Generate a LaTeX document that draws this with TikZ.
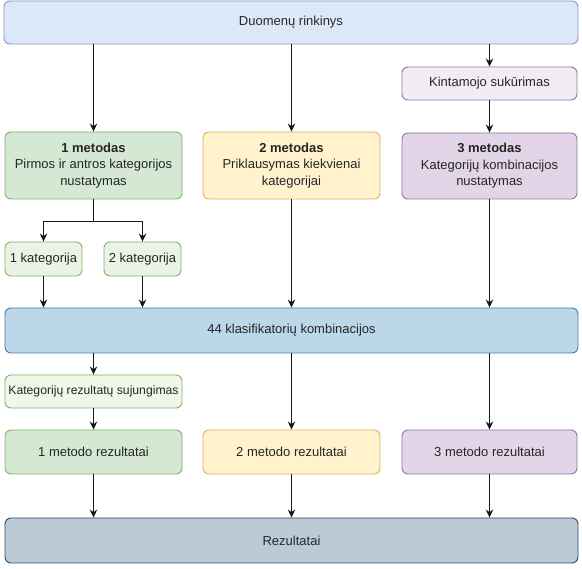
\documentclass[tikz,border=0pt]{standalone}
\usepackage{fontspec}
\setmainfont{Liberation Sans}
\usetikzlibrary{arrows.meta,calc}
\definecolor{topfill}{HTML}{DCE8F8}\definecolor{topdraw}{HTML}{7D98C0}
\definecolor{kfill}{HTML}{BCD6EA}\definecolor{kdraw}{HTML}{4A7AA8}
\definecolor{rfill}{HTML}{BCCAD6}\definecolor{rdraw}{HTML}{2C4A62}
\definecolor{gfill}{HTML}{D5E8D4}\definecolor{gdraw}{HTML}{82B366}
\definecolor{lgfill}{HTML}{EAF3E5}\definecolor{llgfill}{HTML}{F0F6EA}
\definecolor{yfill}{HTML}{FFF2CC}\definecolor{ydraw}{HTML}{D6B656}
\definecolor{pfill}{HTML}{E1D5E7}\definecolor{pdraw}{HTML}{9673A6}
\definecolor{lpfill}{HTML}{F2ECF5}
\tikzset{
  box/.style={draw, rounded corners=6pt, line width=0.9pt, align=center, inner sep=0pt, font=\fontsize{13}{16.5}\selectfont, text=black!85},
  arr/.style={-{Stealth[length=8pt,width=7.5pt]}, line width=1.1pt, black!90},
  ln/.style={line width=1.1pt, black!90}
}
\newcommand{\bx}[7]{% name, x1,y1,x2,y2, style, text
  \node[box,#6,minimum width={#4-#2},minimum height={#5-#3}] (#1) at ({(#2+#4)/2},{(#3+#5)/2}) {#7};}
\begin{document}
\begin{tikzpicture}[x=1pt,y=-1pt]
\useasboundingbox (0,0) rectangle (582,569);
\bx{top}{4}{1}{578}{44}{fill=topfill,draw=topdraw}{Duomenų rinkinys}
\bx{m1}{5}{132}{182}{199}{fill=gfill,draw=gdraw}{\textbf{1 metodas}\\Pirmos ir antros kategorijos\\nustatymas}
\bx{m2}{203}{132}{380}{199}{fill=yfill,draw=ydraw}{\textbf{2 metodas}\\Priklausymas kiekvienai\\kategorijai}
\bx{kint}{402}{67}{577}{100}{fill=lpfill,draw=pdraw}{Kintamojo sukūrimas}
\bx{m3}{402}{133}{577}{199}{fill=pfill,draw=pdraw}{\textbf{3 metodas}\\Kategorijų kombinacijos\\nustatymas}
\bx{k1}{5}{242}{82}{276}{fill=lgfill,draw=gdraw,font=\fontsize{13}{15}\selectfont}{1 kategorija}
\bx{k2}{104}{242}{181}{276}{fill=lgfill,draw=gdraw,font=\fontsize{13}{15}\selectfont}{2 kategorija}
\bx{k44}{5}{308}{578}{353}{fill=kfill,draw=kdraw}{44 klasifikatorių kombinacijos}
\bx{kr}{5}{375}{182}{408}{fill=llgfill,draw=gdraw,font=\fontsize{12.2}{14}\selectfont}{Kategorijų rezultatų sujungimas}
\bx{r1}{5}{430}{182}{474}{fill=gfill,draw=gdraw}{1 metodo rezultatai}
\bx{r2}{203}{430}{380}{474}{fill=yfill,draw=ydraw}{2 metodo rezultatai}
\bx{r3}{402}{430}{577}{474}{fill=pfill,draw=pdraw}{3 metodo rezultatai}
\bx{rez}{5}{518}{578}{563}{fill=rfill,draw=rdraw}{Rezultatai}
% arrows
\draw[arr] (top.south -| m1.north) -- (m1.north);
\draw[arr] (top.south -| m2.north) -- (m2.north);
\draw[arr] (top.south -| kint.north) -- (kint.north);
\draw[arr] (kint) -- (m3);
\coordinate (br) at ($(m1.south)+(0,22)$);
\draw[ln] (m1.south) -- (br);
\draw[arr] (br) -| (k1.north);
\draw[arr] (br) -| (k2.north);
\draw[arr] (k1.south) -- (k1.south |- k44.north);
\draw[arr] (k2.south) -- (k2.south |- k44.north);
\draw[arr] (m2.south) -- (m2.south |- k44.north);
\draw[arr] (m3.south) -- (m3.south |- k44.north);
\draw[arr] (k44.south -| kr.north) -- (kr.north);
\draw[arr] (kr) -- (r1);
\draw[arr] (k44.south -| r2.north) -- (r2.north);
\draw[arr] (k44.south -| r3.north) -- (r3.north);
\draw[arr] (r1.south) -- (r1.south |- rez.north);
\draw[arr] (r2.south) -- (r2.south |- rez.north);
\draw[arr] (r3.south) -- (r3.south |- rez.north);
\end{tikzpicture}
\end{document}
